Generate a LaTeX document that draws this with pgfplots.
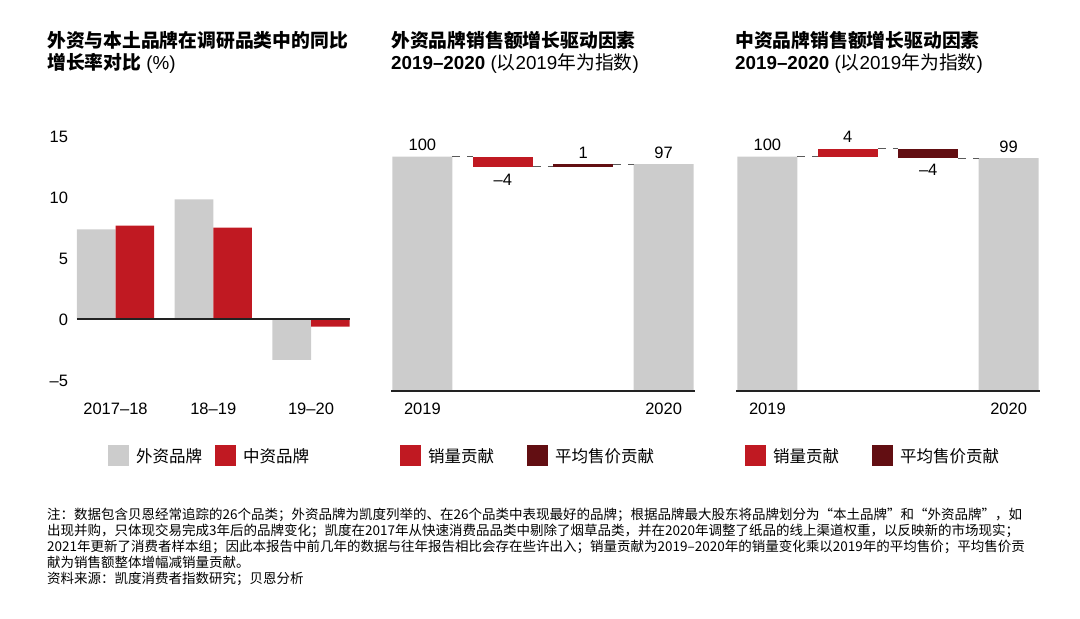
\documentclass[border=0pt]{standalone}
\usepackage{fontspec}
\setmainfont{Liberation Sans}
\newfontfamily\cjk{Noto Sans CJK SC}
\usepackage{pgfplots}
\pgfplotsset{compat=1.18}

\definecolor{cgray}{RGB}{204,204,204}
\definecolor{cred}{RGB}{192,25,34}
\definecolor{cdark}{RGB}{98,14,18}
\definecolor{cline}{RGB}{34,34,34}
\definecolor{cdash}{RGB}{90,90,90}

\newcommand\tfont{\fontsize{18.8}{21.6}\selectfont}
\newcommand\lfont{\fontsize{16.5}{18}\selectfont}
\newcommand\nfont{\fontsize{13.5}{16}\selectfont}

\pgfplotsset{
  panel/.style={
    scale only axis,
    axis line style={draw=none},
    major tick length=0pt,
    clip=false,
    tick label style={font=\lfont},
    xticklabel style={yshift=-9pt},
    legend columns=2,
    legend cell align=left,
    legend style={draw=none, fill=none, inner sep=0pt, anchor=west,
      font=\cjk\lfont, nodes={inner sep=0pt},
      /tikz/every odd column/.append style={column sep=7pt}},
    legend image code/.code={\fill[##1] (0pt,-10.5pt) rectangle (21pt,10.5pt);},
  },
  fall/.style={
    panel,
    width=304pt, height=233.8pt,
    xmin=-0.39, xmax=3.39, ymin=0, ymax=100,
    xtick={0,3}, xticklabels={2019,2020}, ytick=\empty,
    legend style={at={(0.0296,-0.280)},
      /tikz/every even column/.append style={column sep=33pt}},
  },
  conn/.style={draw=cdash, line width=1pt, dash pattern=on 8pt off 7pt, forget plot},
}

\begin{document}
\begin{tikzpicture}
\path[use as bounding box] (0,0) rectangle (1080pt,619pt);

% titles
\node[anchor=base west, inner sep=0, font=\tfont] at (47pt,571pt) {\cjk\bfseries 外资与本土品牌在调研品类中的同比};
\node[anchor=base west, inner sep=0, font=\tfont] at (47pt,549.5pt) {{\cjk\bfseries 增长率对比} (\%)};
\node[anchor=base west, inner sep=0, font=\tfont] at (391pt,571pt) {\cjk\bfseries 外资品牌销售额增长驱动因素};
\node[anchor=base west, inner sep=0, font=\tfont] at (391pt,549.5pt) {\textbf{2019–2020} ({\cjk 以}2019{\cjk 年为指数})};
\node[anchor=base west, inner sep=0, font=\tfont] at (735pt,571pt) {\cjk\bfseries 中资品牌销售额增长驱动因素};
\node[anchor=base west, inner sep=0, font=\tfont] at (735pt,549.5pt) {\textbf{2019–2020} ({\cjk 以}2019{\cjk 年为指数})};

% left: year-on-year growth
\begin{axis}[panel,
  at={(77pt,228.5pt)}, anchor=south west,
  width=273pt, height=266.2pt,
  xmin=-0.394, xmax=2.399, ymin=-5.82, ymax=16,
  xtick={0,1,2}, xticklabels={2017–18,18–19,19–20},
  ytick={-5,0,5,10,15}, yticklabels={–5,0,5,10,15},
  yticklabel style={xshift=-5.5pt},
  legend style={at={(0.1136,-0.246)},
    /tikz/every even column/.append style={column sep=13pt}},
]
\addplot[ybar, bar width=38.7pt, bar shift=-19.35pt, fill=cgray, draw=none, forget plot]
  coordinates {(0,7.39) (1,9.85) (2,-3.32)};
\addplot[ybar, bar width=38.7pt, bar shift=19.35pt, fill=cred, draw=none, forget plot]
  coordinates {(0,7.69) (1,7.53) (2,-0.59)};
\addplot[cline, line width=2pt, forget plot] coordinates {(-0.394,0) (2.399,0)};
\addlegendimage{fill=cgray, draw=none}
\addlegendentry{外资品牌}
\addlegendimage{fill=cred, draw=none}
\addlegendentry{中资品牌}
\end{axis}

% middle: foreign brands waterfall
\begin{axis}[fall, at={(391pt,228.5pt)}, anchor=south west]
\addplot[ybar, bar width=60pt, fill=cgray, draw=none, forget plot]
  coordinates {(0,100) (3,96.8)};
\addplot[cred, line width=60pt, forget plot] coordinates {(1,95.8) (1,100)};
\addplot[cdark, line width=60pt, forget plot] coordinates {(2,95.8) (2,96.8)};
\addplot[conn] coordinates {(0.373,100) (0.627,100)};
\addplot[conn] coordinates {(1.373,95.8) (1.627,95.8)};
\addplot[conn] coordinates {(2.373,96.8) (2.627,96.8)};
\addplot[cline, line width=2pt, forget plot] coordinates {(-0.39,0) (3.39,0)};
\node[anchor=base, font=\lfont, yshift=6pt] at (axis cs:0,100) {100};
\node[anchor=base, font=\lfont, yshift=-18.5pt] at (axis cs:1,95.8) {–4};
\node[anchor=base, font=\lfont, yshift=6pt] at (axis cs:2,96.8) {1};
\node[anchor=base, font=\lfont, yshift=6pt] at (axis cs:3,96.8) {97};
\addlegendimage{fill=cred, draw=none}
\addlegendentry{销量贡献}
\addlegendimage{fill=cdark, draw=none}
\addlegendentry{平均售价贡献}
\end{axis}

% right: domestic brands waterfall
\begin{axis}[fall, at={(736pt,228.5pt)}, anchor=south west]
\addplot[ybar, bar width=60pt, fill=cgray, draw=none, forget plot]
  coordinates {(0,100) (3,99.4)};
\addplot[cred, line width=60pt, forget plot] coordinates {(1,100) (1,103.4)};
\addplot[cdark, line width=60pt, forget plot] coordinates {(2,99.4) (2,103.4)};
\addplot[conn] coordinates {(0.373,100) (0.627,100)};
\addplot[conn] coordinates {(1.373,103.4) (1.627,103.4)};
\addplot[conn] coordinates {(2.373,99.4) (2.627,99.4)};
\addplot[cline, line width=2pt, forget plot] coordinates {(-0.39,0) (3.39,0)};
\node[anchor=base, font=\lfont, yshift=6pt] at (axis cs:0,100) {100};
\node[anchor=base, font=\lfont, yshift=6pt] at (axis cs:1,103.4) {4};
\node[anchor=base, font=\lfont, yshift=-17.6pt] at (axis cs:2,99.4) {–4};
\node[anchor=base, font=\lfont, yshift=6pt] at (axis cs:3,99.4) {99};
\addlegendimage{fill=cred, draw=none}
\addlegendentry{销量贡献}
\addlegendimage{fill=cdark, draw=none}
\addlegendentry{平均售价贡献}
\end{axis}

% footnote
\begin{scope}[every node/.style={anchor=base west, inner sep=0, font=\cjk\nfont}]
\node at (47pt,99pt) {注：数据包含贝恩经常追踪的26个品类；外资品牌为凯度列举的、在26个品类中表现最好的品牌；根据品牌最大股东将品牌划分为“本土品牌”和“外资品牌”，如};
\node at (47pt,83pt) {出现并购，只体现交易完成3年后的品牌变化；凯度在2017年从快速消费品品类中剔除了烟草品类，并在2020年调整了纸品的线上渠道权重，以反映新的市场现实；};
\node at (47pt,67pt) {2021年更新了消费者样本组；因此本报告中前几年的数据与往年报告相比会存在些许出入；销量贡献为2019–2020年的销量变化乘以2019年的平均售价；平均售价贡};
\node at (47pt,51pt) {献为销售额整体增幅减销量贡献。};
\node at (47pt,35pt) {资料来源：凯度消费者指数研究；贝恩分析};
\end{scope}
\end{tikzpicture}
\end{document}
